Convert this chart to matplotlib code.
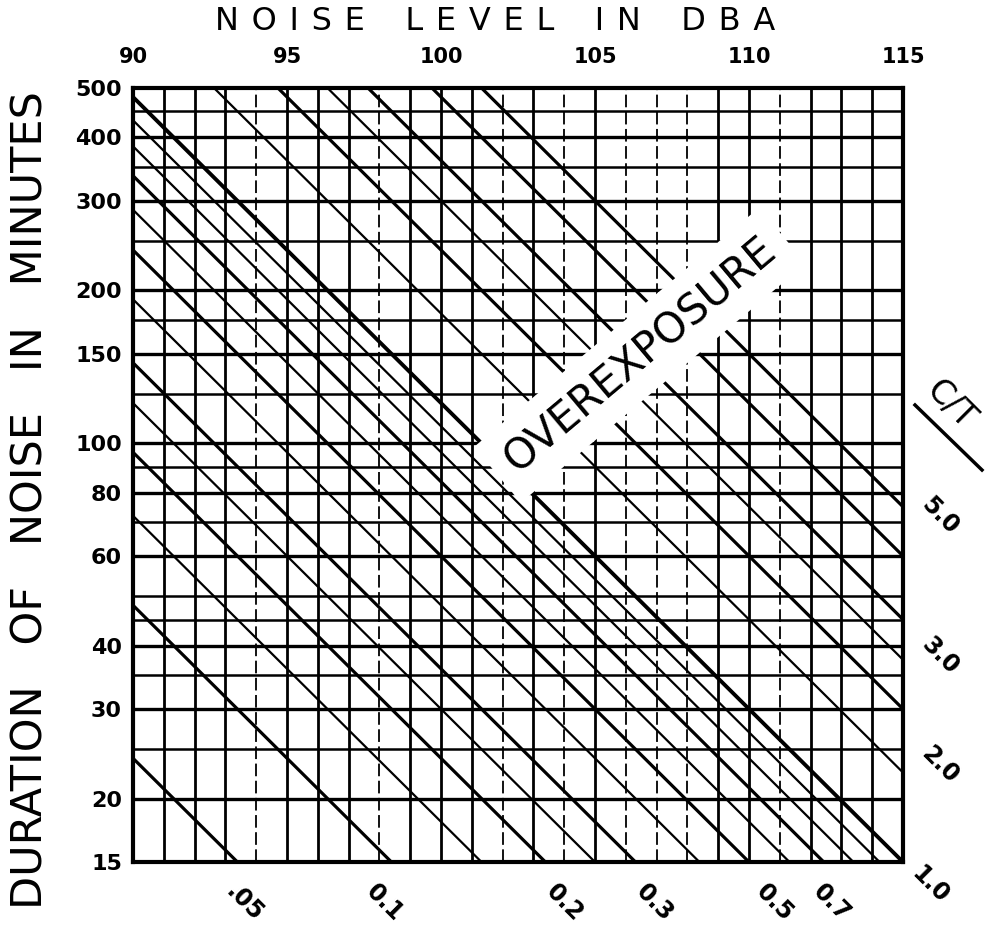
import numpy as np
import matplotlib.pyplot as plt
from matplotlib.ticker import NullLocator

# noise level axis (dBA)
levels = list(range(91, 115))
level_ticks = [90, 95, 100, 105, 110, 115]
dashed_levels = [94, 98, 102, 104, 106, 107, 108, 111]

# duration axis (minutes)
durations = [450, 400, 350, 300, 250, 200, 175, 150, 125, 100, 90, 80,
             70, 60, 50, 45, 40, 35, 30, 25, 20]
duration_ticks = [500, 400, 300, 200, 150, 100, 80, 60, 40, 30, 20, 15]

# C/T ratio lines
ratios = [0.05, 0.1, 0.15, 0.2, 0.25, 0.3, 0.4, 0.5, 0.6, 0.7, 0.8, 0.9,
          1.0, 1.5, 2.0, 2.5, 3.0, 4.0, 5.0]
bottom_ratios = [0.05, 0.1, 0.2, 0.3, 0.5, 0.7, 1.0]
bottom_text = ['.05', '0.1', '0.2', '0.3', '0.5', '0.7', '1.0']
right_ratios = [5.0, 3.0, 2.0]
right_text = ['5.0', '3.0', '2.0']

ts = '\u2009'


def spaced(s, n=1, gap='   '):
    words = s.split(' ')
    return gap.join((ts * n).join(w) for w in words)


fig = plt.figure(figsize=(10.02, 9.39), dpi=100)
ax = fig.add_axes([133 / 1002, 1 - 862 / 939, 770 / 1002, 774 / 939])
ax.set_yscale('log')
ax.set_xlim(90, 115)
ax.set_ylim(15, 500)

# grid
for lv in levels:
    if lv in dashed_levels:
        ax.axvline(lv, color='black', lw=1.3, ls=(0, (7, 2.5)))
    else:
        ax.axvline(lv, color='black', lw=2.0)
for d in durations:
    ax.axhline(d, color='black', lw=2.4 if d in duration_ticks else 1.8)

# C/T lines: C = r * permissible time
L = np.linspace(90, 115, 300)
T = 480 / 2 ** ((L - 90) / 5)
for r in ratios:
    if r == 1.0:
        lw = 2.8
    elif r in bottom_ratios or r in right_ratios or r == 4.0:
        lw = 2.3
    else:
        lw = 1.6
    ax.plot(L, r * T, color='black', lw=lw, solid_capstyle='butt')

for s in ax.spines.values():
    s.set_linewidth(3)

ax.xaxis.tick_top()
ax.set_xticks(level_ticks)
ax.set_xticklabels([str(v) for v in level_ticks], fontsize=15, fontweight='bold')
ax.yaxis.set_minor_locator(NullLocator())
ax.set_yticks(duration_ticks)
ax.set_yticklabels([str(v) for v in duration_ticks], fontsize=16, fontweight='bold')
ax.tick_params(length=0, pad=8)
ax.tick_params(axis='x', pad=15)

# ratio labels along bottom and right edge
bottom_dx = [7, -7, 19, 19, 26, 8, 27]
for r, t, dx in zip(bottom_ratios, bottom_text, bottom_dx):
    x = 90 + 5 * np.log2(32 * r)
    dy = -23 if r == 1.0 else -41
    ax.annotate(t, (x, 15), xytext=(dx * 0.72, dy * 0.72), textcoords='offset points',
                rotation=-45, fontsize=17, fontweight='bold',
                ha='center', va='center', annotation_clip=False)
for r, t, dy in zip(right_ratios, right_text, [-9, -36, -56]):
    ax.annotate(t, (115, 15 * r), xytext=(37 * 0.72, dy * 0.72), textcoords='offset points',
                rotation=-45, fontsize=17, fontweight='bold',
                ha='center', va='center', annotation_clip=False)

ax.text(106.46, 149, 'OVEREXPOSURE', rotation=40, fontsize=30,
        ha='center', va='center', rotation_mode='anchor',
        bbox=dict(facecolor='white', edgecolor='none', pad=11), zorder=5)

fig.text(495 / 1002, 1 - 22 / 939, spaced('NOISE LEVEL IN DBA', 2, '    '),
         fontsize=23, ha='center', va='center')
fig.text(31 / 1002, 1 - 500 / 939, 'DURATION   OF   NOISE   IN   MINUTES',
         fontsize=31, rotation=90, ha='center', va='center')

fig.text(950 / 1002, 1 - 405 / 939, 'C/T', fontsize=24, rotation=-45,
         ha='center', va='center')
fig.add_artist(plt.Line2D([915 / 1002, 982 / 1002], [1 - 405 / 939, 1 - 470 / 939],
                          color='black', lw=2.5))

fig.savefig('out.png', dpi=100)
